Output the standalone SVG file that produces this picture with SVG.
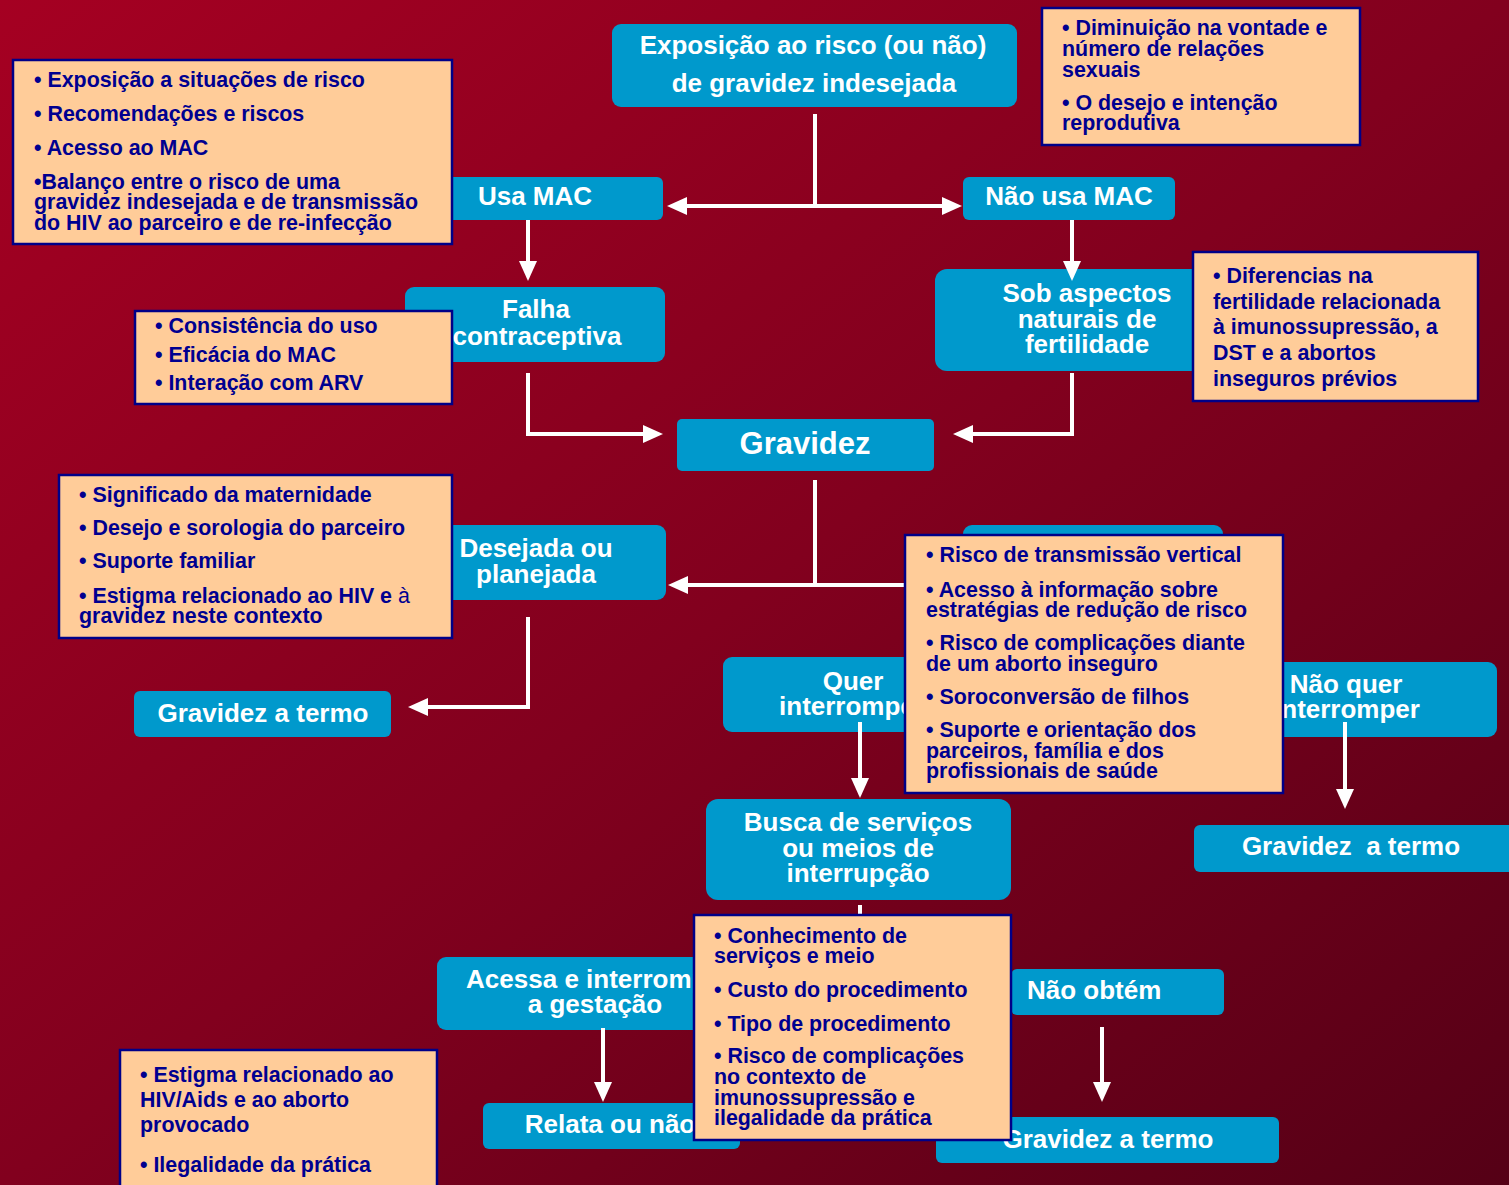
<svg xmlns="http://www.w3.org/2000/svg" width="1509" height="1185" viewBox="0 0 1509 1185">
<defs>
<linearGradient id="bg" x1="0" y1="0" x2="1" y2="1">
<stop offset="0" stop-color="#A50022"/>
<stop offset="0.5" stop-color="#82001E"/>
<stop offset="1" stop-color="#550016"/>
</linearGradient>
<marker id="ah" markerUnits="userSpaceOnUse" markerWidth="20" markerHeight="18" viewBox="0 0 20 18" refX="14" refY="9" orient="auto-start-reverse">
<path d="M0,0 L20,9 L0,18 z" fill="#FFFFFF"/>
</marker>
<style>
.blue{fill:#0099CC;}
.peach{fill:#FFCC99;stroke:#000088;stroke-width:2.5;}
.bt{font-family:"Liberation Sans",Arial,sans-serif;font-weight:bold;font-size:26px;fill:#FFFFFF;text-anchor:middle;}
.pt{font-family:"Liberation Sans",Arial,sans-serif;font-weight:bold;font-size:21.4px;fill:#000090;}
.conn{stroke:#FFFFFF;stroke-width:4;fill:none;}
</style>
</defs>
<rect x="0" y="0" width="1509" height="1185" fill="url(#bg)"/>

<g id="n-exposicao"><rect class="blue" x="612" y="24" width="405" height="83" rx="9"/>
<text class="bt" x="813" y="54">Exposição ao risco (ou não)</text>
<text class="bt" x="814" y="92">de gravidez indesejada</text></g>

<g id="n-usa"><rect class="blue" x="408" y="177" width="255" height="43" rx="6"/>
<text class="bt" x="535" y="205">Usa MAC</text></g>

<g id="n-naousa"><rect class="blue" x="963" y="177" width="212" height="43" rx="6"/>
<text class="bt" x="1069" y="205">Não usa MAC</text></g>

<g id="n-falha"><rect class="blue" x="405" y="287" width="260" height="75" rx="9"/>
<text class="bt" x="536" y="318">Falha</text>
<text class="bt" x="537" y="345">contraceptiva</text></g>

<g id="n-sob"><rect class="blue" x="935" y="269" width="304" height="102" rx="12"/>
<text class="bt" x="1087" y="302">Sob aspectos</text>
<text class="bt" x="1087" y="328">naturais de</text>
<text class="bt" x="1087" y="353">fertilidade</text></g>

<g id="n-gravidez"><rect class="blue" x="677" y="419" width="257" height="52" rx="5"/>
<text class="bt" x="805" y="454" style="font-size:31px">Gravidez</text></g>

<g id="n-desejada"><rect class="blue" x="406" y="525" width="260" height="75" rx="9"/>
<text class="bt" x="536" y="557">Desejada ou</text>
<text class="bt" x="536" y="583">planejada</text></g>

<g id="n-naodesejada"><rect class="blue" x="963" y="525" width="260" height="75" rx="9"/></g>

<g id="n-termo1"><rect class="blue" x="134" y="691" width="257" height="46" rx="6"/>
<text class="bt" x="263" y="722">Gravidez a termo</text></g>

<g id="n-quer"><rect class="blue" x="723" y="657" width="260" height="75" rx="9"/>
<text class="bt" x="853" y="690">Quer</text>
<text class="bt" x="852" y="715">interromper</text></g>

<g id="n-naoquer"><rect class="blue" x="1195" y="662" width="302" height="75" rx="9"/>
<text class="bt" x="1346" y="693">Não quer</text>
<text class="bt" x="1347" y="718">interromper</text></g>

<g id="n-busca"><rect class="blue" x="706" y="799" width="305" height="101" rx="12"/>
<text class="bt" x="858" y="831">Busca de serviços</text>
<text class="bt" x="858" y="857">ou meios de</text>
<text class="bt" x="858" y="882">interrupção</text></g>

<g id="n-termo2"><rect class="blue" x="1194" y="825" width="325" height="47" rx="6"/>
<text class="bt" x="1351" y="855" xml:space="preserve">Gravidez  a termo</text></g>

<g id="n-acessa"><rect class="blue" x="437" y="957" width="316" height="73" rx="9"/>
<text class="bt" x="594" y="988">Acessa e interrompe</text>
<text class="bt" x="595" y="1013">a gestação</text></g>

<g id="n-naoobtem"><rect class="blue" x="1011" y="969" width="213" height="46" rx="6"/>
<text class="bt" x="1027" y="999" style="text-anchor:start">Não obtém</text></g>

<g id="n-relata"><rect class="blue" x="483" y="1103" width="257" height="46" rx="6"/>
<text class="bt" x="610" y="1133">Relata ou não</text></g>

<g id="n-termo3"><rect class="blue" x="936" y="1117" width="343" height="46" rx="6"/>
<text class="bt" x="1108" y="1148">Gravidez a termo</text></g>

<g id="connectors">
<line class="conn" x1="815" y1="114" x2="815" y2="206"/>
<line class="conn" x1="673" y1="206" x2="956" y2="206" marker-start="url(#ah)" marker-end="url(#ah)"/>
<line class="conn" x1="528" y1="220" x2="528" y2="275" marker-end="url(#ah)"/>
<line class="conn" x1="1072" y1="220" x2="1072" y2="275" marker-end="url(#ah)"/>
<path class="conn" d="M528,373 V434 H657" marker-end="url(#ah)"/>
<path class="conn" d="M1072,373 V434 H959" marker-end="url(#ah)"/>
<line class="conn" x1="815" y1="480" x2="815" y2="585"/>
<line class="conn" x1="905" y1="585" x2="674" y2="585" marker-end="url(#ah)"/>
<path class="conn" d="M528,617 V707 H414" marker-end="url(#ah)"/>
<line class="conn" x1="860" y1="722" x2="860" y2="792" marker-end="url(#ah)"/>
<line class="conn" x1="1345" y1="722" x2="1345" y2="803" marker-end="url(#ah)"/>
<line class="conn" x1="860" y1="905" x2="860" y2="918"/>
<line class="conn" x1="603" y1="1028" x2="603" y2="1096" marker-end="url(#ah)"/>
<line class="conn" x1="1102" y1="1027" x2="1102" y2="1096" marker-end="url(#ah)"/>
</g>

<g id="p-exposicao"><rect class="peach" x="13" y="60" width="439" height="184"/>
<text class="pt" x="34" y="87">• Exposição a situações de risco</text>
<text class="pt" x="34" y="121">• Recomendações e riscos</text>
<text class="pt" x="34" y="155">• Acesso ao MAC</text>
<text class="pt" x="34" y="189">•Balanço entre o risco de uma</text>
<text class="pt" x="34" y="209">gravidez indesejada e de transmissão</text>
<text class="pt" x="34" y="230">do HIV ao parceiro e de re-infecção</text></g>

<g id="p-diminuicao"><rect class="peach" x="1042" y="8" width="318" height="137"/>
<text class="pt" x="1062" y="35">• Diminuição na vontade e</text>
<text class="pt" x="1062" y="56">número de relações</text>
<text class="pt" x="1062" y="77">sexuais</text>
<text class="pt" x="1062" y="110">• O desejo e intenção</text>
<text class="pt" x="1062" y="130">reprodutiva</text></g>

<g id="p-consistencia"><rect class="peach" x="135" y="311" width="317" height="93"/>
<text class="pt" x="155" y="333">• Consistência do uso</text>
<text class="pt" x="155" y="362">• Eficácia do MAC</text>
<text class="pt" x="155" y="390">• Interação com ARV</text></g>

<g id="p-diferencias"><rect class="peach" x="1193" y="252" width="285" height="149"/>
<text class="pt" x="1213" y="283">• Diferencias na</text>
<text class="pt" x="1213" y="309">fertilidade relacionada</text>
<text class="pt" x="1213" y="334">à imunossupressão, a</text>
<text class="pt" x="1213" y="360">DST e a abortos</text>
<text class="pt" x="1213" y="386">inseguros prévios</text></g>

<g id="p-significado"><rect class="peach" x="59" y="475" width="393" height="163"/>
<text class="pt" x="79" y="502">• Significado da maternidade</text>
<text class="pt" x="79" y="535">• Desejo e sorologia do parceiro</text>
<text class="pt" x="79" y="568">• Suporte familiar</text>
<text class="pt" x="79" y="603">• Estigma relacionado ao HIV e <tspan style="font-weight:normal">à</tspan></text>
<text class="pt" x="79" y="623">gravidez neste contexto</text></g>

<g id="p-risco"><rect class="peach" x="905" y="535" width="378" height="258"/>
<text class="pt" x="926" y="562">• Risco de transmissão vertical</text>
<text class="pt" x="926" y="597">• Acesso à informação sobre</text>
<text class="pt" x="926" y="617">estratégias de redução de risco</text>
<text class="pt" x="926" y="650">• Risco de complicações diante</text>
<text class="pt" x="926" y="671">de um aborto inseguro</text>
<text class="pt" x="926" y="704">• Soroconversão de filhos</text>
<text class="pt" x="926" y="737">• Suporte e orientação dos</text>
<text class="pt" x="926" y="758">parceiros, família e dos</text>
<text class="pt" x="926" y="778">profissionais de saúde</text></g>

<g id="p-conhecimento"><rect class="peach" x="694" y="915" width="317" height="225"/>
<text class="pt" x="714" y="943">• Conhecimento de</text>
<text class="pt" x="714" y="963">serviços e meio</text>
<text class="pt" x="714" y="997">• Custo do procedimento</text>
<text class="pt" x="714" y="1031">• Tipo de procedimento</text>
<text class="pt" x="714" y="1063">• Risco de complicações</text>
<text class="pt" x="714" y="1084">no contexto de</text>
<text class="pt" x="714" y="1105">imunossupressão e</text>
<text class="pt" x="714" y="1125">ilegalidade da prática</text></g>

<g id="p-estigma"><rect class="peach" x="120" y="1050" width="317" height="145"/>
<text class="pt" x="140" y="1082">• Estigma relacionado ao</text>
<text class="pt" x="140" y="1107">HIV/Aids e ao aborto</text>
<text class="pt" x="140" y="1132">provocado</text>
<text class="pt" x="140" y="1172">• Ilegalidade da prática</text></g>
</svg>
